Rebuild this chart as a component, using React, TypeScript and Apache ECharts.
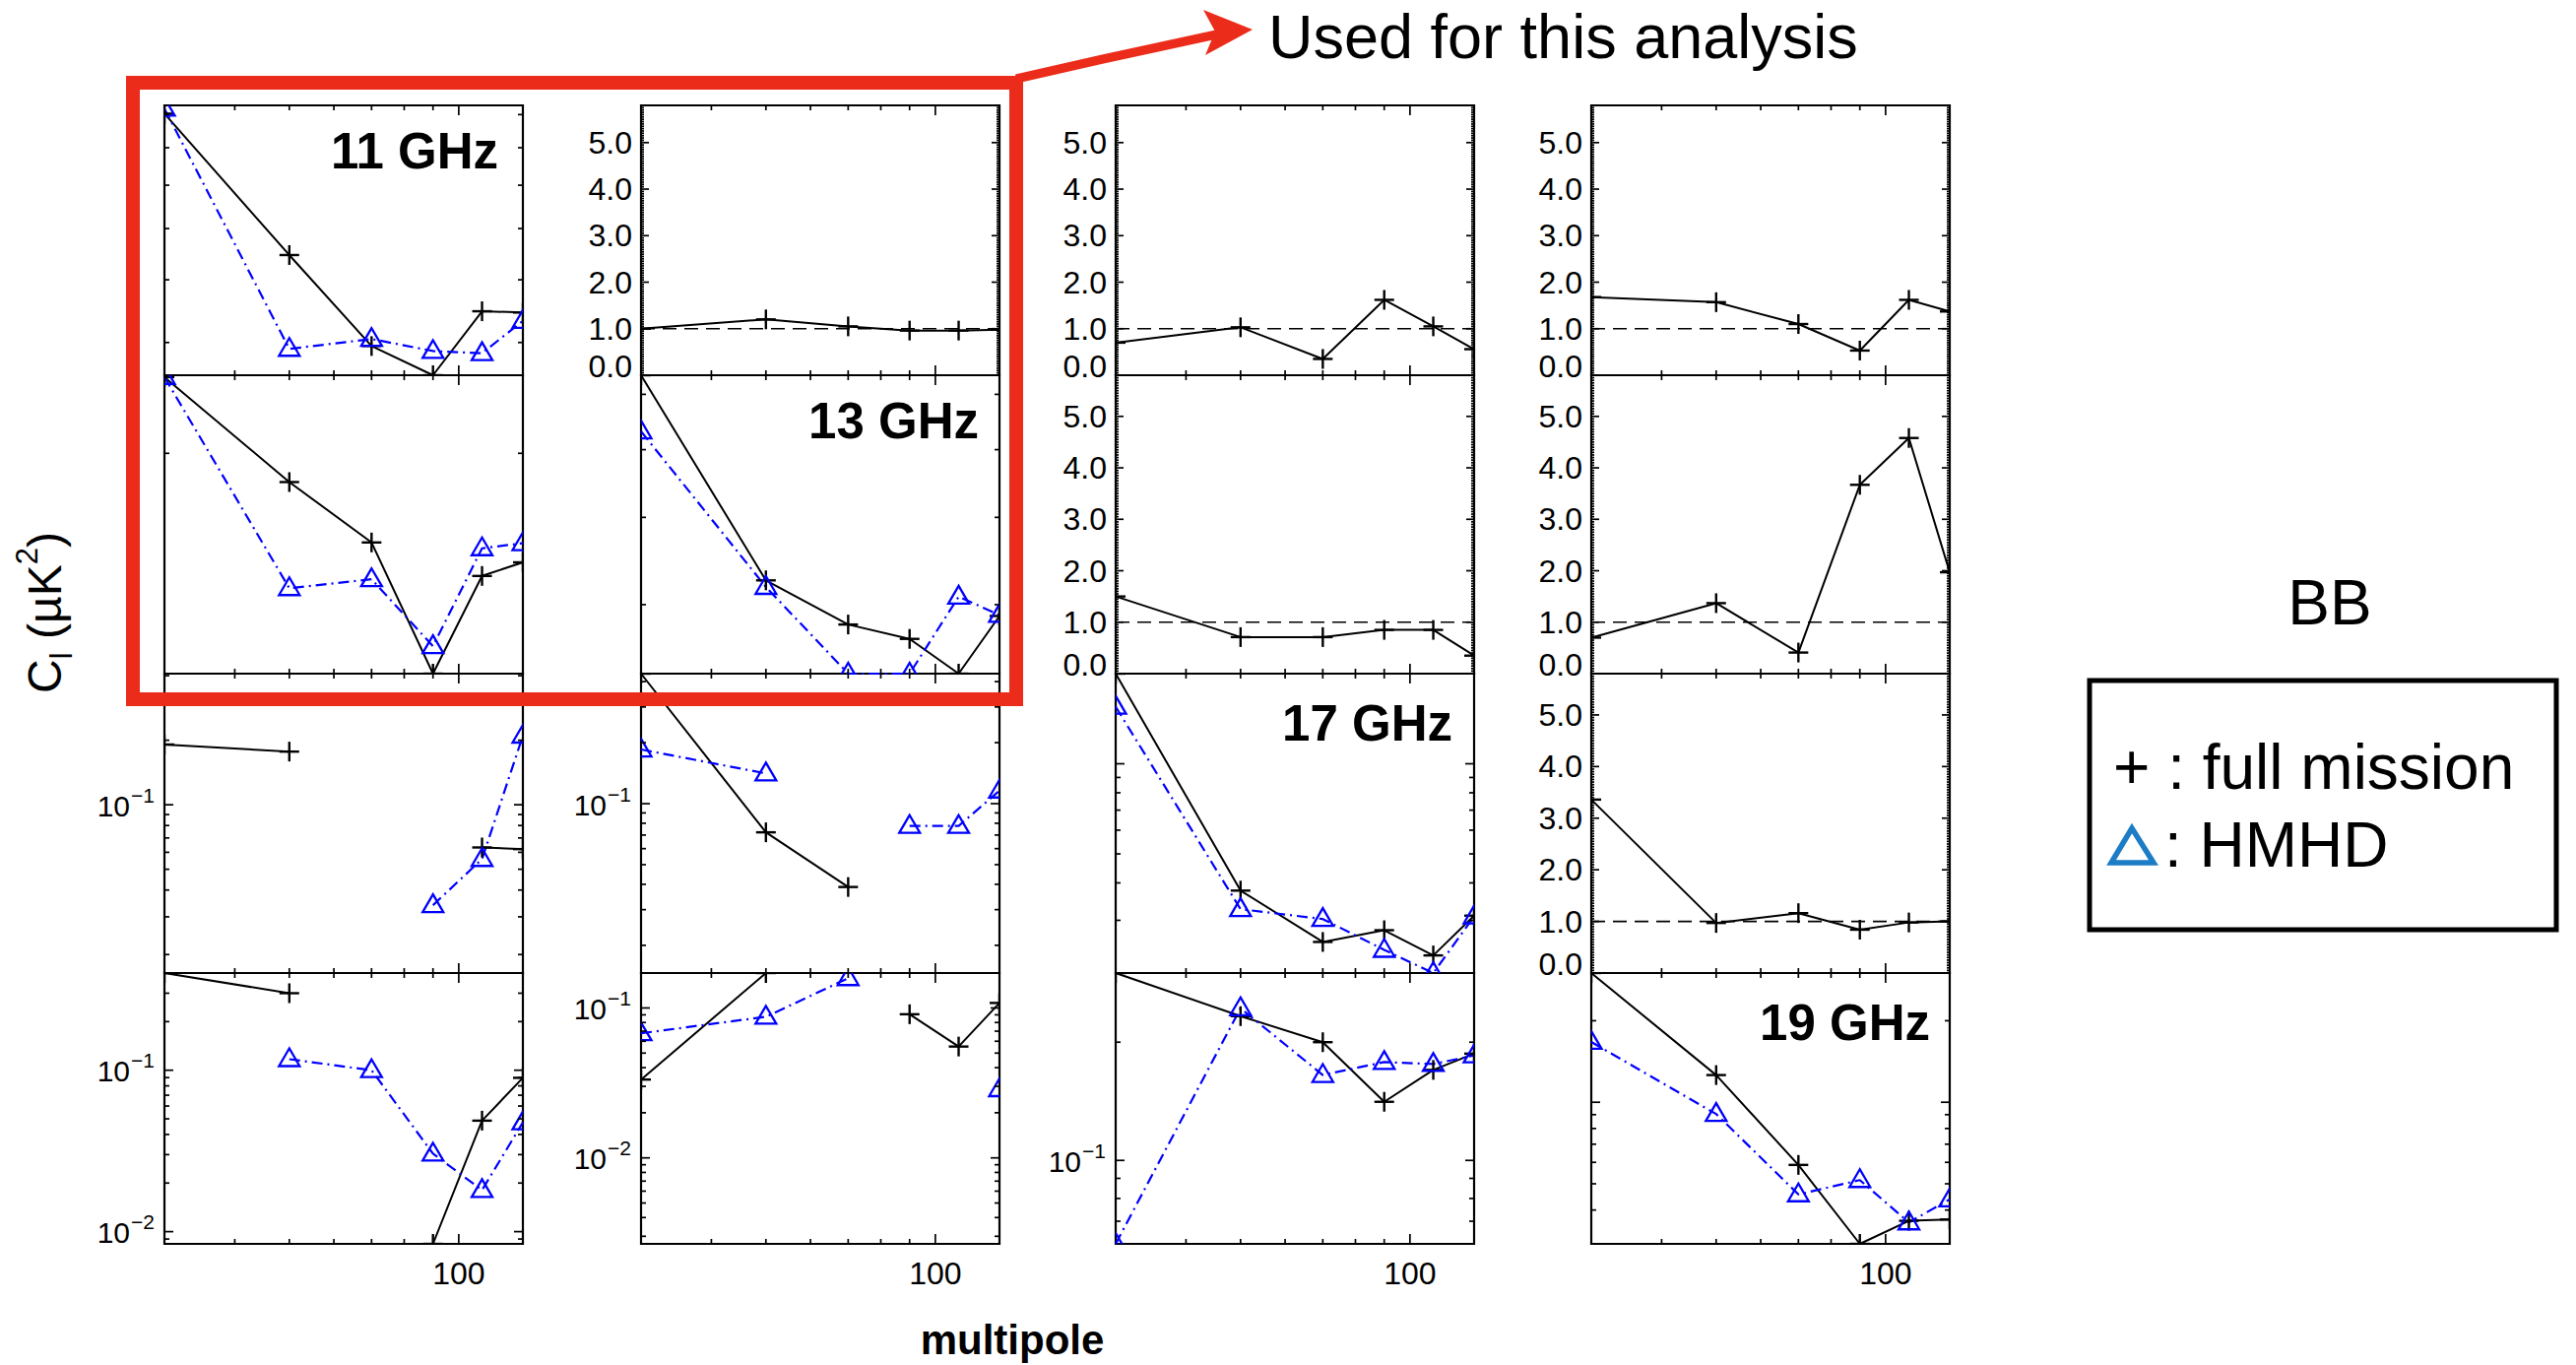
import React, { useEffect, useRef } from "react";
import * as echarts from "echarts";

const FONT = '"Liberation Sans", Arial, Helvetica, sans-serif';

// ---------- axes ----------
const MULTIPOLES = [30, 50, 70, 90, 110, 130];
const X_RANGE = [30, 130];
const X_MINOR_TICKS = [40, 50, 60, 70, 80, 90];
const X_MAJOR_TICKS = [100];
const LIN_RANGE = [0, 5.8];
const LIN_MAJOR_TICKS = [0, 1, 2, 3, 4, 5];
const LIN_MINOR_STEP = 0.05;
const REF_LEVEL = 1.0;
const FREQ_LABELS = ["11 GHz", "13 GHz", "17 GHz", "19 GHz"];

// ---------- diagonal / lower panels (log) : full mission (+) and HMHD (triangle) ----------
const FULL_11_11 = [9.03, 5.46, 3.95, 3.56, 4.47, 4.45];
const HMHD_11_11 = [9.19, 3.91, 4.05, 3.88, 3.85, 4.32];
const RANGE_11_11 = [3.56, 9.3];

const FULL_13_11 = [1.35, 0.893, 0.704, 0.42, 0.617, 0.651];
const HMHD_13_11 = [1.35, 0.588, 0.609, 0.468, 0.688, 0.702];
const RANGE_13_11 = [0.42, 1.36];
const TICKS_13_11 = [1.0];

const FULL_13_13 = [6.39, 3.25, 2.81, 2.68, 2.39, 2.89];
const HMHD_13_13 = [5.31, 3.18, 2.39, 2.39, 3.08, 2.9];
const RANGE_13_13 = [2.39, 6.39];

const FULL_17_11 = [0.191, 0.177, null, null, 0.0632, 0.0621];
const HMHD_17_11 = [null, null, null, 0.034, 0.0558, 0.21];
const RANGE_17_11 = [0.0164, 0.409];

const FULL_17_13 = [0.438, 0.0722, 0.0388, null, null, null];
const HMHD_17_13 = [0.185, 0.141, null, 0.0776, 0.0776, 0.116];
const RANGE_17_13 = [0.0146, 0.438];

const FULL_17_17 = [2.0, 0.377, 0.254, 0.278, 0.229, 0.311];
const HMHD_17_17 = [1.55, 0.327, 0.303, 0.239, 0.2, 0.309];
const RANGE_17_17 = [0.2, 2.0];

const FULL_19_11 = [0.4, 0.3, null, 0.0084, 0.0487, 0.0897];
const HMHD_19_11 = [null, 0.117, 0.1, 0.0304, 0.0181, 0.0475];
const RANGE_19_11 = [0.0084, 0.4];

const FULL_19_13 = [0.0333, 0.171, null, 0.0908, 0.0553, 0.108];
const HMHD_19_13 = [0.0678, 0.0873, 0.158, null, null, 0.0287];
const RANGE_19_13 = [0.00267, 0.171];

const FULL_19_17 = [0.3, 0.233, 0.2, 0.141, 0.17, 0.187];
const HMHD_19_17 = [0.0613, 0.244, 0.165, 0.178, 0.176, 0.185];
const RANGE_19_17 = [0.0613, 0.3];

const FULL_19_19 = [3.0, 1.26, 0.587, 0.3, 0.365, 0.369];
const HMHD_19_19 = [1.67, 0.905, 0.457, 0.516, 0.36, 0.438];
const RANGE_19_19 = [0.3, 3.0];

// ---------- upper panels (linear ratios, full mission only) ----------
const RATIO_11_13 = [1.0, 1.2, 1.05, 0.96, 0.96, 0.98];
const RATIO_11_17 = [0.7, 1.03, 0.35, 1.62, 1.05, 0.56];
const RATIO_11_19 = [1.68, 1.57, 1.1, 0.53, 1.62, 1.37];
const RATIO_13_17 = [1.5, 0.71, 0.71, 0.85, 0.85, 0.35];
const RATIO_13_19 = [0.7, 1.37, 0.41, 3.67, 4.58, 1.97];
const RATIO_17_19 = [3.36, 0.97, 1.16, 0.84, 0.98, 1.0];

// ---------- layout ----------
const COL_X = [167, 651, 1133, 1616];
const COL_W = 364;
const ROW_Y = [107, 381, 684, 988];
const ROW_H = [274, 303, 304, 275];

type Panel = {
  row: number;
  col: number;
  scale: "lin" | "log";
  range: number[];
  full: (number | null)[];
  hmhd?: (number | null)[];
  labels?: boolean;
  ticks?: number[];
};

const PANELS: Panel[] = [
  { row: 0, col: 0, scale: "log", range: RANGE_11_11, full: FULL_11_11, hmhd: HMHD_11_11 },
  { row: 0, col: 1, scale: "lin", range: LIN_RANGE, full: RATIO_11_13 },
  { row: 0, col: 2, scale: "lin", range: LIN_RANGE, full: RATIO_11_17 },
  { row: 0, col: 3, scale: "lin", range: LIN_RANGE, full: RATIO_11_19 },
  { row: 1, col: 0, scale: "log", range: RANGE_13_11, full: FULL_13_11, hmhd: HMHD_13_11, ticks: TICKS_13_11 },
  { row: 1, col: 1, scale: "log", range: RANGE_13_13, full: FULL_13_13, hmhd: HMHD_13_13 },
  { row: 1, col: 2, scale: "lin", range: LIN_RANGE, full: RATIO_13_17 },
  { row: 1, col: 3, scale: "lin", range: LIN_RANGE, full: RATIO_13_19 },
  { row: 2, col: 0, scale: "log", range: RANGE_17_11, full: FULL_17_11, hmhd: HMHD_17_11, labels: true },
  { row: 2, col: 1, scale: "log", range: RANGE_17_13, full: FULL_17_13, hmhd: HMHD_17_13, labels: true },
  { row: 2, col: 2, scale: "log", range: RANGE_17_17, full: FULL_17_17, hmhd: HMHD_17_17 },
  { row: 2, col: 3, scale: "lin", range: LIN_RANGE, full: RATIO_17_19 },
  { row: 3, col: 0, scale: "log", range: RANGE_19_11, full: FULL_19_11, hmhd: HMHD_19_11, labels: true },
  { row: 3, col: 1, scale: "log", range: RANGE_19_13, full: FULL_19_13, hmhd: HMHD_19_13, labels: true },
  { row: 3, col: 2, scale: "log", range: RANGE_19_17, full: FULL_19_17, hmhd: HMHD_19_17, labels: true },
  { row: 3, col: 3, scale: "log", range: RANGE_19_19, full: FULL_19_19, hmhd: HMHD_19_19 },
];

function logTickValues(min: number, max: number) {
  const out: { v: number; major: boolean }[] = [];
  const d0 = Math.floor(Math.log10(min));
  const d1 = Math.ceil(Math.log10(max));
  for (let d = d0; d <= d1; d++) {
    for (let k = 1; k <= 9; k++) {
      const v = k * Math.pow(10, d);
      if (v >= min * 1.0001 && v <= max * 0.9999) out.push({ v, major: k === 1 });
    }
  }
  return out;
}

// tick item: [x, y, kind(0=x,1=y), length, labelCode(0 none,1 x-label,2 lin,3 log)]
function buildTicks(p: Panel) {
  const out: number[][] = [];
  const ymin = p.range[0];
  const x0 = X_RANGE[0];
  X_MINOR_TICKS.forEach((v) => out.push([v, ymin, 0, 5, 0]));
  X_MAJOR_TICKS.forEach((v) => out.push([v, ymin, 0, 10, p.row === 3 ? 1 : 0]));
  if (p.scale === "lin") {
    const n = Math.round(p.range[1] / LIN_MINOR_STEP);
    for (let i = 1; i < n; i++) {
      if (i % 20 !== 0) out.push([x0, i * LIN_MINOR_STEP, 1, 3, 0]);
    }
    LIN_MAJOR_TICKS.forEach((v) => out.push([x0, v, 1, 8, 2]));
  } else if (p.ticks) {
    p.ticks.forEach((v) => out.push([x0, v, 1, 5, 0]));
  } else {
    logTickValues(p.range[0], p.range[1]).forEach((t) =>
      out.push([x0, t.v, 1, t.major ? 9 : 5, t.major && p.labels ? 3 : 0])
    );
  }
  return out;
}

function buildMarkers(p: Panel) {
  const out: number[][] = [];
  p.full.forEach((v, j) => {
    if (v != null) out.push([MULTIPOLES[j], v, 0]);
  });
  if (p.hmhd)
    p.hmhd.forEach((v, j) => {
      if (v != null) out.push([MULTIPOLES[j], v, 1]);
    });
  return out;
}

const txt = (text: string, size: number, align: string, valign: string, weight = "normal") => ({
  text,
  fill: "#000",
  font: `${weight} ${size}px ${FONT}`,
  textAlign: align,
  textVerticalAlign: valign,
  align,
  verticalAlign: valign,
});

function tickRender(params: any, api: any) {
  const cs = params.coordSys;
  const kind = api.value(2);
  const len = api.value(3);
  const lab = api.value(4);
  const xv = api.value(0);
  const yv = api.value(1);
  const pt = api.coord([xv, yv]);
  const st = { stroke: "#000", lineWidth: 1.7 };
  const ch: any[] = [];
  if (kind === 0) {
    const x = pt[0];
    const yb = cs.y + cs.height;
    ch.push({ type: "line", shape: { x1: x, y1: yb, x2: x, y2: yb - len }, style: st });
    ch.push({ type: "line", shape: { x1: x, y1: cs.y, x2: x, y2: cs.y + len }, style: st });
    if (lab === 1) ch.push({ type: "text", x, y: yb + 30, style: txt(String(xv), 32, "center", "middle") });
  } else {
    const y = pt[1];
    const xr = cs.x + cs.width;
    ch.push({ type: "line", shape: { x1: cs.x, y1: y, x2: cs.x + len, y2: y }, style: st });
    ch.push({ type: "line", shape: { x1: xr, y1: y, x2: xr - len, y2: y }, style: st });
    if (lab === 2) {
      ch.push({ type: "text", x: cs.x - 9, y: yv === 0 ? y - 9 : y, style: txt(yv.toFixed(1), 32, "right", "middle") });
    } else if (lab === 3) {
      const e = Math.round(Math.log10(yv));
      ch.push({ type: "text", x: cs.x - 35, y: y + 1, style: txt("10", 30, "right", "middle") });
      ch.push({ type: "text", x: cs.x - 34, y: y - 10, style: txt("\u2212" + String(-e), 21, "left", "middle") });
    }
  }
  return { type: "group", children: ch };
}

function markerRender(params: any, api: any) {
  const p = api.coord([api.value(0), api.value(1)]);
  const t = api.value(2);
  if (t === 0) {
    const st = { stroke: "#000", lineWidth: 2.4 };
    return {
      type: "group",
      children: [
        { type: "line", shape: { x1: p[0] - 10, y1: p[1], x2: p[0] + 10, y2: p[1] }, style: st },
        { type: "line", shape: { x1: p[0], y1: p[1] - 10, x2: p[0], y2: p[1] + 10 }, style: st },
      ],
    };
  }
  return {
    type: "polygon",
    shape: { points: [[p[0], p[1] - 11], [p[0] - 10.5, p[1] + 7], [p[0] + 10.5, p[1] + 7]] },
    style: { fill: "none", stroke: "#0000ff", lineWidth: 2.3 },
  };
}

function buildOption() {
  const grid: any[] = [];
  const xAxis: any[] = [];
  const yAxis: any[] = [];
  const series: any[] = [];
  PANELS.forEach((p, i) => {
    grid.push({
      left: COL_X[p.col],
      top: ROW_Y[p.row],
      width: COL_W,
      height: ROW_H[p.row],
      show: true,
      borderColor: "#000",
      borderWidth: 2.2,
      backgroundColor: "transparent",
    });
    xAxis.push({ type: "log", logBase: 10, min: X_RANGE[0], max: X_RANGE[1], gridIndex: i, show: false });
    yAxis.push({
      type: p.scale === "lin" ? "value" : "log",
      logBase: 10,
      min: p.range[0],
      max: p.range[1],
      gridIndex: i,
      show: false,
    });
    if (p.scale === "lin") {
      series.push({
        type: "line",
        xAxisIndex: i,
        yAxisIndex: i,
        data: [[X_RANGE[0], REF_LEVEL], [X_RANGE[1], REF_LEVEL]],
        symbol: "none",
        silent: true,
        lineStyle: { color: "#000", width: 1.7, type: [14, 8] },
        z: 2,
      });
    }
    series.push({
      type: "line",
      xAxisIndex: i,
      yAxisIndex: i,
      data: MULTIPOLES.map((x, j) => [x, p.full[j] == null ? null : p.full[j]]),
      symbol: "none",
      clip: true,
      connectNulls: false,
      lineStyle: { color: "#000", width: 2 },
      z: 3,
    });
    if (p.hmhd) {
      series.push({
        type: "line",
        xAxisIndex: i,
        yAxisIndex: i,
        data: MULTIPOLES.map((x, j) => [x, p.hmhd![j] == null ? null : p.hmhd![j]]),
        symbol: "none",
        clip: true,
        connectNulls: false,
        lineStyle: { color: "#0000ff", width: 2.2, type: [11, 5, 2, 5] },
        z: 4,
      });
    }
    series.push({
      type: "custom",
      xAxisIndex: i,
      yAxisIndex: i,
      data: buildMarkers(p),
      encode: { x: 0, y: 1 },
      renderItem: markerRender,
      clip: true,
      silent: true,
      z: 5,
    });
    series.push({
      type: "custom",
      xAxisIndex: i,
      yAxisIndex: i,
      data: buildTicks(p),
      encode: { x: 0, y: 1 },
      renderItem: tickRender,
      clip: false,
      silent: true,
      z: 6,
    });
  });

  const RED = "#ec2c1a";
  const graphic: any[] = [
    // diagonal titles
    { type: "text", x: 506, y: 153, style: txt(FREQ_LABELS[0], 51, "right", "middle", "bold") },
    { type: "text", x: 994, y: 427, style: txt(FREQ_LABELS[1], 51, "right", "middle", "bold") },
    { type: "text", x: 1475, y: 734, style: txt(FREQ_LABELS[2], 51, "right", "middle", "bold") },
    { type: "text", x: 1960, y: 1038, style: txt(FREQ_LABELS[3], 51, "right", "middle", "bold") },
    // axis titles
    { type: "text", x: 1028, y: 1360, style: txt("multipole", 42, "center", "middle", "bold") },
    {
      type: "text",
      x: 45,
      y: 622,
      rotation: Math.PI / 2,
      style: {
        text: "{a|C}{s|l}{a| (\u00b5K}{p|2}{a|)}",
        fill: "#000",
        textAlign: "center",
        textVerticalAlign: "middle",
        align: "center",
        verticalAlign: "middle",
        rich: {
          a: { fontSize: 48, fontFamily: FONT, lineHeight: 66, verticalAlign: "middle" },
          s: { fontSize: 31, fontFamily: FONT, lineHeight: 31, verticalAlign: "bottom" },
          p: { fontSize: 31, fontFamily: FONT, lineHeight: 31, verticalAlign: "top" },
        },
      },
    },
    // annotation
    {
      type: "rect",
      shape: { x: 135, y: 84, width: 897, height: 626 },
      style: { fill: "none", stroke: RED, lineWidth: 14 },
      z: 100,
    },
    {
      type: "polyline",
      shape: { points: [[1032, 80], [1120, 60], [1240, 34]] },
      style: { stroke: RED, lineWidth: 9, fill: "none" },
      z: 100,
    },
    {
      type: "polygon",
      shape: { points: [[1272, 30], [1222, 10], [1234, 32], [1224, 56]] },
      style: { fill: RED },
      z: 100,
    },
    { type: "text", x: 1288, y: 37, style: txt("Used for this analysis", 63, "left", "middle") },
    // BB + legend
    { type: "text", x: 2366, y: 612, style: txt("BB", 64, "center", "middle") },
    {
      type: "rect",
      shape: { x: 2122, y: 691, width: 474, height: 253 },
      style: { fill: "none", stroke: "#000", lineWidth: 5 },
    },
    { type: "text", x: 2146, y: 779, style: txt("+ : full mission", 64, "left", "middle") },
    {
      type: "polygon",
      shape: { points: [[2165, 841], [2144, 876], [2187, 876]] },
      style: { fill: "none", stroke: "#1c7cc6", lineWidth: 5.5 },
    },
    { type: "text", x: 2198, y: 858, style: txt(": HMHD", 64, "left", "middle") },
  ];

  return { animation: false, backgroundColor: "#fff", grid, xAxis, yAxis, series, graphic };
}

export default function App() {
  const ref = useRef<HTMLDivElement>(null);
  useEffect(() => {
    if (!ref.current) return;
    const chart = echarts.init(ref.current, null, { renderer: "svg" });
    chart.setOption(buildOption() as any);
    return () => chart.dispose();
  }, []);
  return (
    <div
      ref={ref}
      style={{ position: "fixed", left: 0, top: 0, width: "2616px", height: "1386px", background: "#fff" }}
    />
  );
}
